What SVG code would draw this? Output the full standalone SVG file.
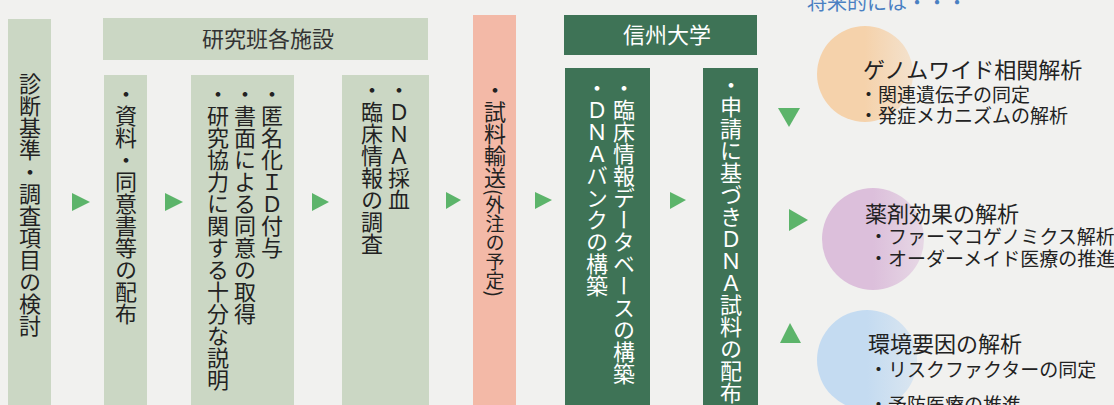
<svg xmlns="http://www.w3.org/2000/svg" width="1114" height="405" viewBox="0 0 1114 405">
<defs>
<style>
.bg{fill:#f1f1ef}
.lg{fill:#cbd7c4}
.dg{fill:#3e7356}
.pk{fill:#f3b9a7}
.arr{fill:#5cb46a}
.v{font-family:"Noto Sans CJK JP","Noto Sans",sans-serif;font-size:22px;writing-mode:vertical-rl;fill:#222}
.vw{fill:#ffffff}
.hd{font-family:"Noto Sans CJK JP","Noto Sans",sans-serif;font-size:22px;text-anchor:middle}
.tt{font-family:"Noto Sans CJK JP","Noto Sans",sans-serif;font-size:22px;fill:#222}
.st{font-family:"Noto Sans CJK JP","Noto Sans",sans-serif;font-size:19px;fill:#222}
</style>
<linearGradient id="gOr" x1="0" y1="0" x2="1" y2="0"><stop offset="0.5" stop-color="#f5d2ab"/><stop offset="1" stop-color="#f5d2ab" stop-opacity="0.5"/></linearGradient>
<linearGradient id="gPu" x1="0" y1="0" x2="1" y2="0"><stop offset="0.5" stop-color="#dcbfdb"/><stop offset="1" stop-color="#dcbfdb" stop-opacity="0.5"/></linearGradient>
<linearGradient id="gBl" x1="0" y1="0" x2="1" y2="0"><stop offset="0.5" stop-color="#c4dbf1"/><stop offset="1" stop-color="#c4dbf1" stop-opacity="0.5"/></linearGradient>
</defs>
<rect class="bg" x="0" y="0" width="1114" height="405"/>
<text x="807" y="10" font-family="'Noto Sans CJK JP',sans-serif" font-size="20" fill="#4a80c2">将来的には・・・</text>

<g id="node-shindan">
<rect class="lg" x="8" y="19" width="43" height="386"/>
<text class="v" x="30" y="73">診断基準・調査項目の検討</text>
</g>
<g id="node-kenkyuhan">
<rect class="lg" x="103" y="18" width="325" height="42"/>
<text class="hd" x="268" y="47" fill="#333">研究班各施設</text>
</g>
<g id="node-shiryo">
<rect class="lg" x="104" y="75" width="43" height="330"/>
<text class="v" x="126" y="83">・資料・同意書等の配布</text>
</g>
<g id="node-tokumei">
<rect class="lg" x="191" y="75" width="103" height="330"/>
<text class="v" x="272" y="83">・匿名化ＩＤ付与</text>
<text class="v" x="245" y="83">・書面による同意の取得</text>
<text class="v" x="218" y="83">・研究協力に関する十分な説明</text>
</g>
<g id="node-dna">
<rect class="lg" x="342" y="75" width="87" height="330"/>
<text class="v" x="399" y="79">・ＤＮＡ採血</text>
<text class="v" x="372" y="79">・臨床情報の調査</text>
</g>
<g id="node-yuso">
<rect class="pk" x="473" y="15" width="43" height="390"/>
<text class="v" x="495" y="79">・試料輸送<tspan font-size="19">(外注の予定)</tspan></text>
</g>
<g id="node-shinshu">
<rect class="dg" x="564" y="15" width="193" height="40"/>
<text class="hd" x="667" y="43" fill="#ffffff">信州大学</text>
</g>
<g id="node-database">
<rect class="dg" x="565" y="68" width="85" height="337"/>
<text class="v vw" x="624" y="77">・臨床情報データベースの構築</text>
<text class="v vw" x="597" y="77">・ＤＮＡバンクの構築</text>
</g>
<g id="node-haifu">
<rect class="dg" x="703" y="68" width="55" height="337"/>
<text class="v vw" x="731" y="74">・申請に基づきＤＮＡ試料の配布</text>
</g>
<g id="node-genome">
<circle cx="865" cy="74" r="48" fill="url(#gOr)"/>
<text class="tt" x="863" y="78">ゲノムワイド相関解析</text>
<text class="st" x="859" y="102">・関連遺伝子の同定</text>
<text class="st" x="859" y="123">・発症メカニズムの解析</text>
</g>
<g id="node-yakuzai">
<circle cx="873" cy="239" r="51" fill="url(#gPu)"/>
<text class="tt" x="865" y="222">薬剤効果の解析</text>
<text class="st" x="869" y="244">・ファーマコゲノミクス解析</text>
<text class="st" x="869" y="266">・オーダーメイド医療の推進</text>
</g>
<g id="node-kankyo">
<circle cx="867" cy="360" r="50" fill="url(#gBl)"/>
<text class="tt" x="868" y="352">環境要因の解析</text>
<text class="st" x="869" y="377">・リスクファクターの同定</text>
<text class="st" x="869" y="412">・予防医療の推進</text>
</g>

<g id="connectors">
<polygon class="arr" points="72,193 90,202 72,211"/>
<polygon class="arr" points="165,193 183,202 165,211"/>
<polygon class="arr" points="312,193 329,202 312,211"/>
<polygon class="arr" points="446,192 461,200 446,209"/>
<polygon class="arr" points="535,192 552,200 535,209"/>
<polygon class="arr" points="670,192 686,200 670,209"/>
<polygon class="arr" points="778,108 800,108 789,127"/>
<polygon class="arr" points="789,209 808,220 789,231"/>
<polygon class="arr" points="780,343 801,343 790,323"/>
</g>
</svg>
